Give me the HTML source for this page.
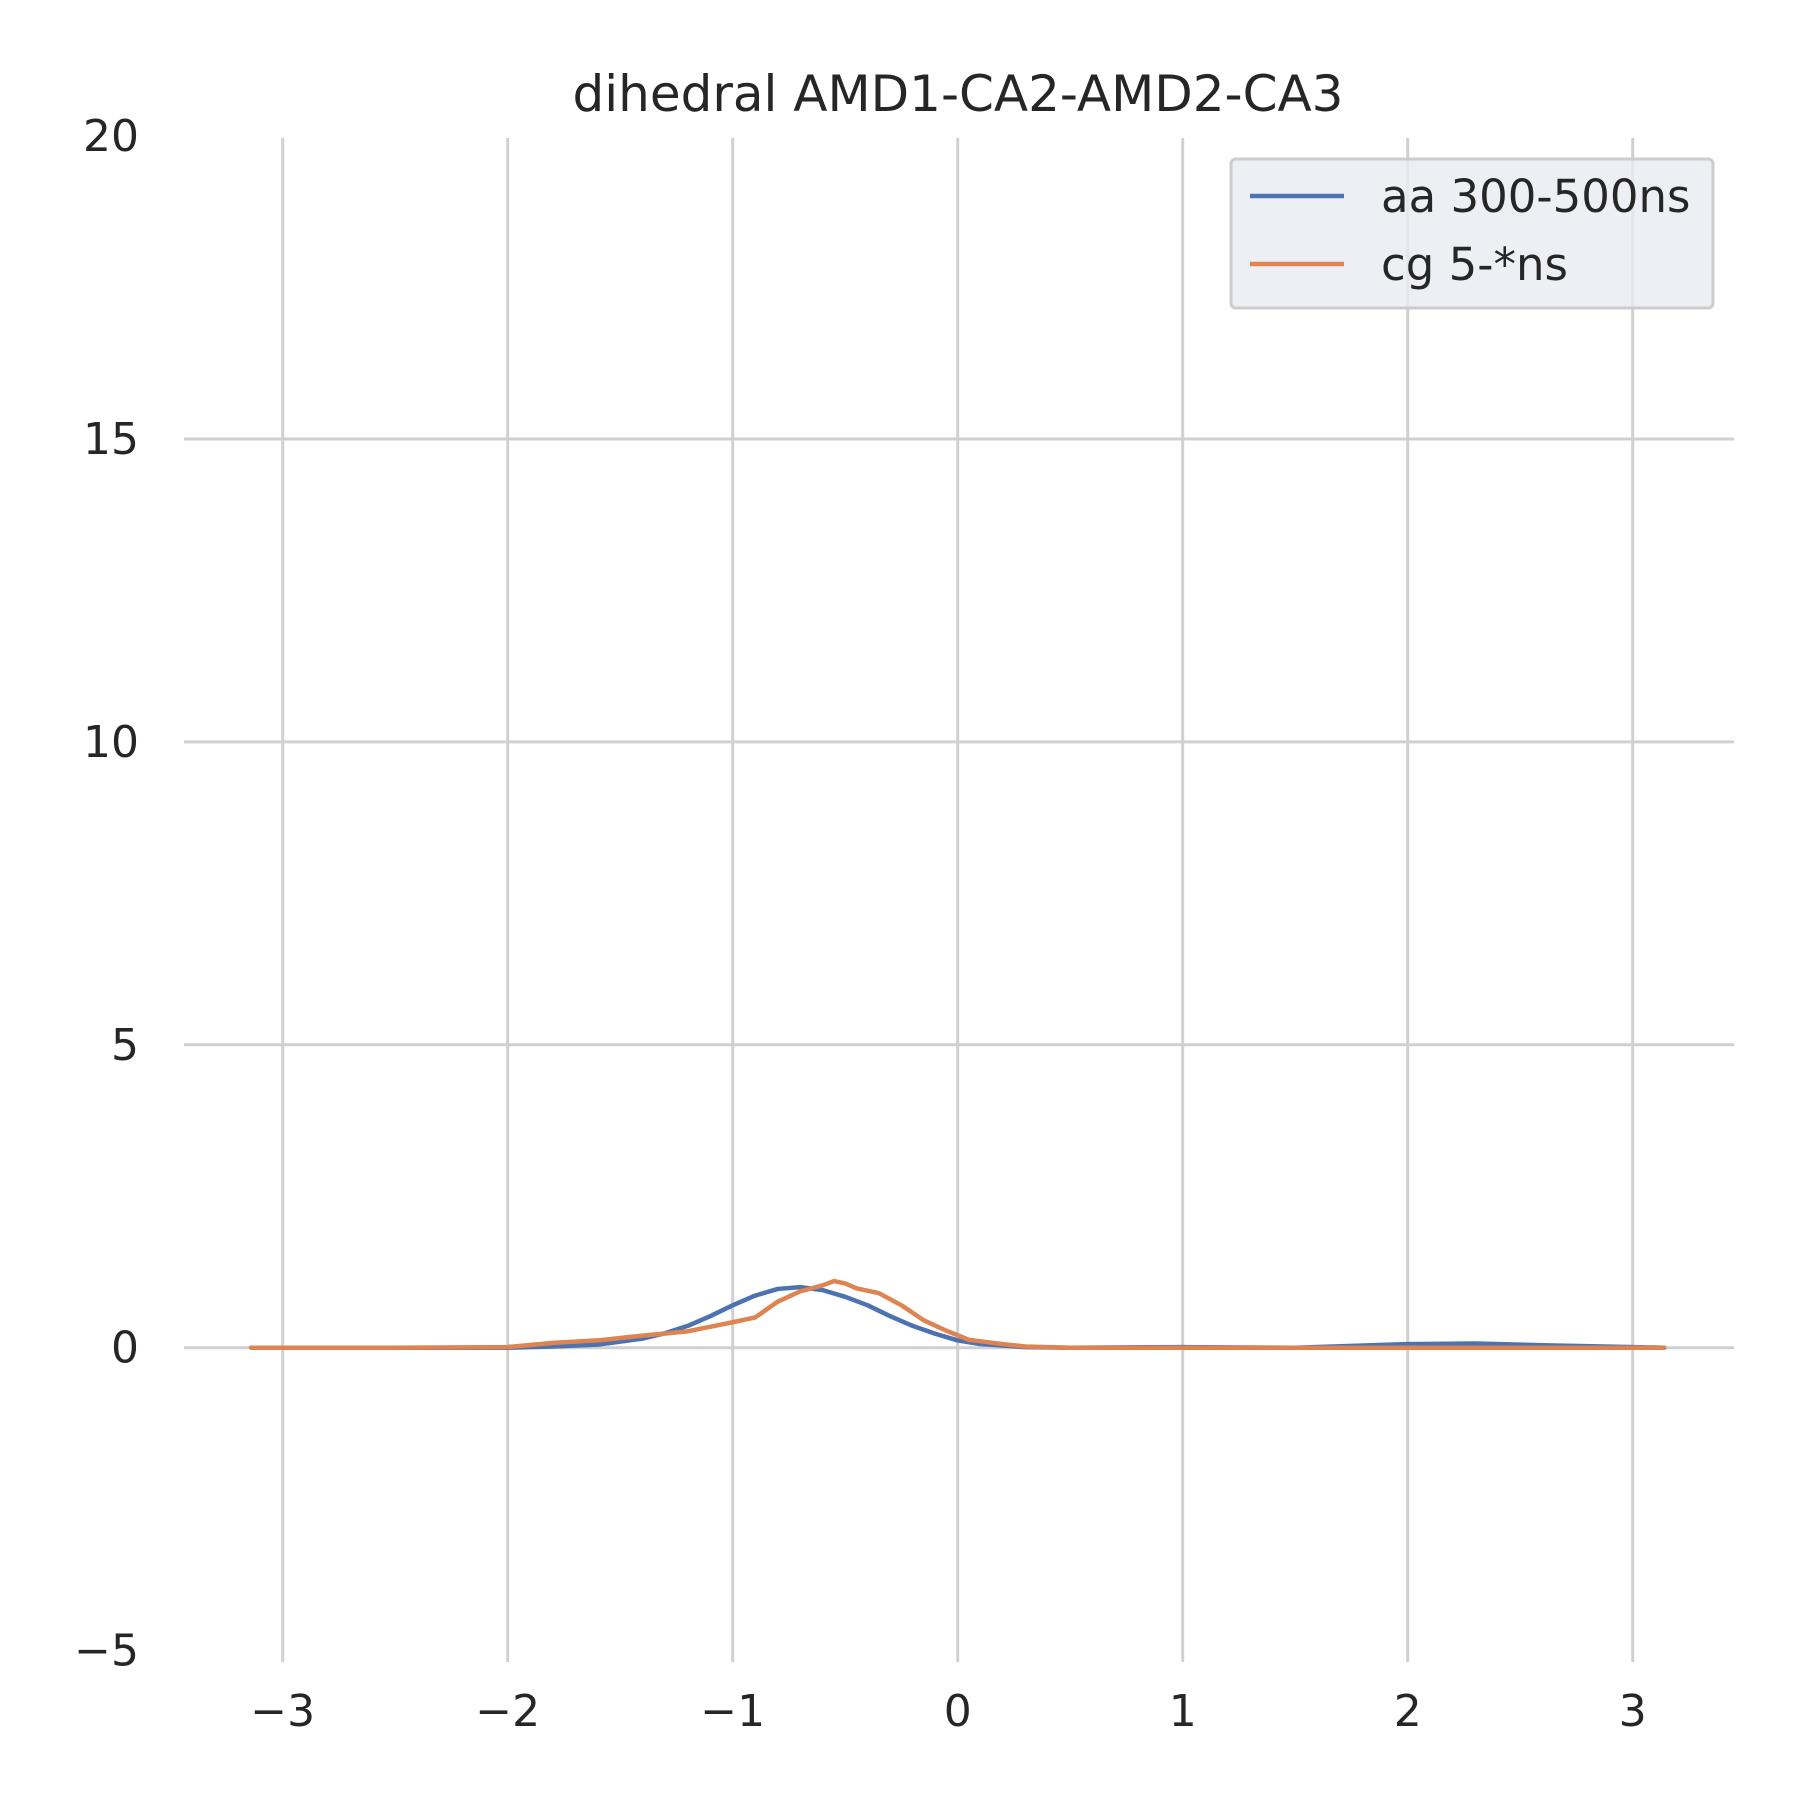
<!DOCTYPE html>
<html><head><meta charset="utf-8"><style>
html,body{margin:0;padding:0;background:#fff;}
svg text{font-family:"DejaVu Sans","Liberation Sans",sans-serif;fill:#262626;}
</style></head><body>
<svg id="chart" width="1800" height="1800" viewBox="0 0 1800 1800" xmlns="http://www.w3.org/2000/svg">
<text x="958" y="111" font-size="50" text-anchor="middle">dihedral AMD1-CA2-AMD2-CA3</text>
<g id="grid"></g>
<g id="series"></g>
<g>
<rect x="1231" y="159" width="482" height="149" rx="5" fill="#eaeaf2" fill-opacity="0.8" stroke="#cccccc" stroke-width="3"/>
<line x1="1250" y1="196" x2="1344" y2="196" stroke="#4c72b0" stroke-width="4.5"/>
<text x="1381" y="212" font-size="45">aa 300-500ns</text>
<line x1="1250" y1="264" x2="1344" y2="264" stroke="#dd8452" stroke-width="4.5"/>
<text x="1381" y="280" font-size="45">cg 5-*ns</text>
</g>
</svg>
<script>
const xTicks = [-3,-2,-1,0,1,2,3];
const yTicks = [-5,0,5,10,15,20];
const aaX = [-3.14,-2.5,-2.0,-1.8,-1.6,-1.4,-1.3,-1.2,-1.1,-1.0,-0.9,-0.8,-0.7,-0.6,-0.5,-0.4,-0.3,-0.2,-0.1,0.0,0.1,0.3,0.5,1.0,1.5,2.0,2.3,2.6,3.14];
const aaY = [0,0,0,0.02,0.05,0.15,0.24,0.36,0.52,0.7,0.86,0.97,1.0,0.95,0.84,0.7,0.52,0.36,0.23,0.12,0.06,0.01,0,0.01,0,0.06,0.07,0.04,0];
const cgX = [-3.14,-2.5,-2.0,-1.8,-1.6,-1.4,-1.2,-1.0,-0.9,-0.8,-0.7,-0.6,-0.55,-0.5,-0.45,-0.35,-0.25,-0.15,-0.05,0.05,0.2,0.3,0.5,1.0,2.0,3.14];
const cgY = [0,0,0.01,0.08,0.12,0.2,0.27,0.42,0.5,0.76,0.93,1.03,1.1,1.06,0.98,0.9,0.7,0.45,0.28,0.13,0.06,0.02,0,0,0,0];
const NS='http://www.w3.org/2000/svg';
function sx(v){return 957.7+225*v;}
function sy(v){return 1347.7-60.58*v;}
const grid=document.getElementById('grid');
xTicks.forEach(t=>{
 const l=document.createElementNS(NS,'line');
 l.setAttribute('x1',sx(t));l.setAttribute('x2',sx(t));l.setAttribute('y1',138);l.setAttribute('y2',1662);
 l.setAttribute('stroke','#d0d0d0');l.setAttribute('stroke-width','3');
 
 
 grid.appendChild(l);
 const tx=document.createElementNS(NS,'text');
 tx.setAttribute('x',sx(t));tx.setAttribute('y',1726);tx.setAttribute('font-size','44');tx.setAttribute('text-anchor','middle');
 tx.textContent=t<0?'\u2212'+(-t):String(t);
 
 
 grid.appendChild(tx);
});
yTicks.forEach(t=>{
 const l=document.createElementNS(NS,'line');
 l.setAttribute('x1',184);l.setAttribute('x2',1734);l.setAttribute('y1',sy(t));l.setAttribute('y2',sy(t));
 l.setAttribute('stroke','#d0d0d0');l.setAttribute('stroke-width','3');
 
 
 if(t!==-5&&t!==20)grid.appendChild(l);
 const tx=document.createElementNS(NS,'text');
 tx.setAttribute('x',139);tx.setAttribute('y',sy(t)+15);tx.setAttribute('font-size','44');tx.setAttribute('text-anchor','end');
 tx.textContent=t<0?'\u2212'+(-t):String(t);
 
 
 grid.appendChild(tx);
});
const series=document.getElementById('series');
function draw(xs,ys,color,name){
 const p=document.createElementNS(NS,'polyline');
 p.setAttribute('points',xs.map((x,i)=>sx(x)+','+sy(ys[i])).join(' '));
 p.setAttribute('fill','none');p.setAttribute('stroke',color);p.setAttribute('stroke-width','4.5');
 p.setAttribute('stroke-linejoin','round');p.setAttribute('stroke-linecap','round');
 
 
 series.appendChild(p);
}
draw(aaX,aaY,'#4c72b0','aa-line');
draw(cgX,cgY,'#dd8452','cg-line');
</script>
</body></html>
